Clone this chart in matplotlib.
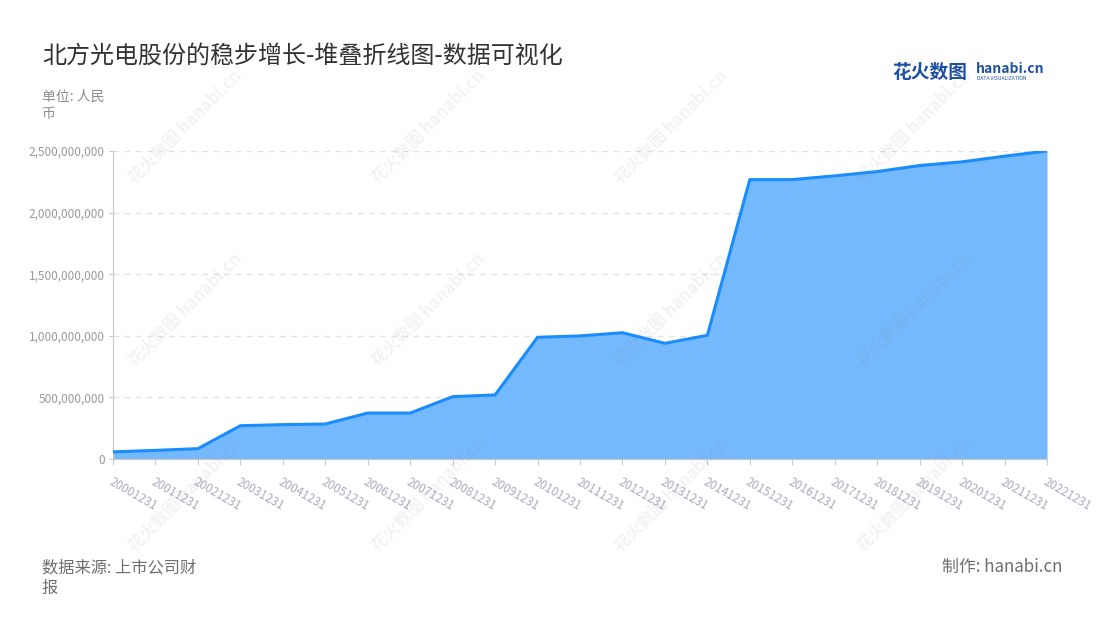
import matplotlib.pyplot as plt
import matplotlib.ticker as mticker
import numpy as np

plt.rcParams['font.family'] = ['Noto Sans CJK SC', 'DejaVu Sans']

# data (RMB)
years = ['20001231', '20011231', '20021231', '20031231', '20041231', '20051231',
         '20061231', '20071231', '20081231', '20091231', '20101231', '20111231',
         '20121231', '20131231', '20141231', '20151231', '20161231', '20171231',
         '20181231', '20191231', '20201231', '20211231', '20221231']
values = [58e6, 70e6, 84e6, 270e6, 279e6, 284e6,
          373e6, 373e6, 506e6, 520e6, 988e6, 999e6,
          1025e6, 939e6, 1004e6, 2268e6, 2268e6, 2298e6,
          2333e6, 2382e6, 2412e6, 2458e6, 2500e6]
y_ticks = [0, 500e6, 1000e6, 1500e6, 2000e6, 2500e6]

fig = plt.figure(figsize=(11, 6.2), dpi=100)
ax = fig.add_axes([113 / 1100, 1 - 459 / 620, (1047 - 113) / 1100, (459 - 151) / 620])

x = np.arange(len(years))
ax.fill_between(x, values, 0, color='#74b8fd', zorder=2, linewidth=0)
ax.plot(x, values, color='#1b8cfb', linewidth=2.2, zorder=3)

ax.set_xlim(0, len(years) - 1)
ax.set_ylim(0, 2500e6)
ax.set_yticks(y_ticks)
ax.yaxis.set_major_formatter(mticker.FuncFormatter(lambda v, p: f'{int(v):,}'))
ax.set_xticks(x)
ax.set_xticklabels(years, rotation=-30, ha='left', va='top', rotation_mode='anchor',
                   color='#a9abbd', fontsize=8.5)
ax.tick_params(axis='x', length=4, color='#c8c8c8', pad=8)
ax.tick_params(axis='y', length=3, color='#c8c8c8', labelcolor='#9a9a9a', labelsize=8.5, pad=3)

for y in y_ticks[1:]:
    ax.axhline(y, color='#e2e2e2', linestyle=(0, (4, 4)), linewidth=1, zorder=1)

for side in ['top', 'right']:
    ax.spines[side].set_visible(False)
ax.spines['left'].set_color('#c8c8c8')
ax.spines['bottom'].set_color('#c8c8c8')
ax.spines['bottom'].set_zorder(4)

# titles and notes
fig.text(42 / 1100, 1 - 56 / 620, '北方光电股份的稳步增长-堆叠折线图-数据可视化',
         fontsize=17.3, color='#333333', va='center', ha='left')
fig.text(42 / 1100, 1 - 105 / 620, '单位: 人民\n币', fontsize=10, color='#8c8c8c',
         va='center', ha='left', linespacing=1.3)
fig.text(42 / 1100, 1 - 578 / 620, '数据来源: 上市公司财\n报', fontsize=11.7, color='#6e6e6e',
         va='center', ha='left', linespacing=1.3)
fig.text(1062 / 1100, 1 - 567 / 620, '制作: hanabi.cn', fontsize=12.2, color='#6e6e6e',
         va='center', ha='right')

# logo
fig.text(892 / 1100, 1 - 72 / 620, '花火数图', fontsize=13.5, color='#1f4fa3',
         fontweight='bold', va='center', ha='left')
fig.text(976 / 1100, 1 - 69 / 620, 'hanabi.cn', fontsize=10, color='#1f4fa3',
         fontweight='bold', va='center', ha='left')
fig.text(977 / 1100, 1 - 79 / 620, 'DATA VISUALIZATION', fontsize=3.6, color='#1f4fa3',
         va='center', ha='left')

# watermarks
for cy in [127, 310, 495]:
    for cx in [185, 428, 671, 914]:
        fig.text(cx / 1100, 1 - cy / 620, '花火数图 hanabi.cn', fontsize=12, fontweight='bold',
                 color='#888888', alpha=0.1, rotation=45, ha='center', va='center', zorder=5)

fig.savefig('out.png', dpi=100)
